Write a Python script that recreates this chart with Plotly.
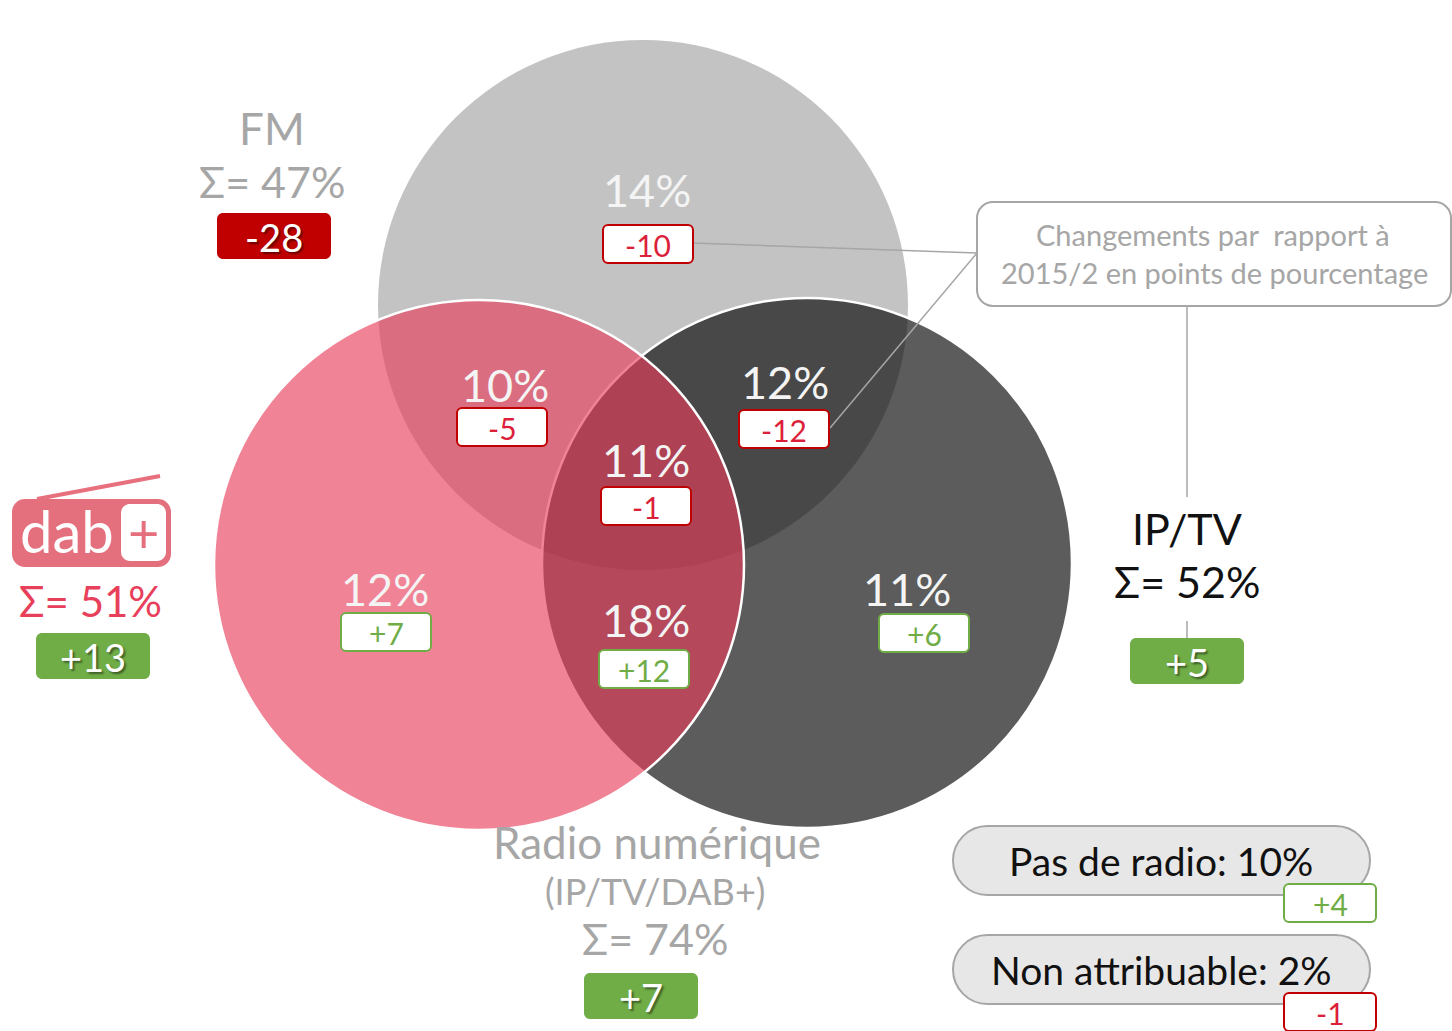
import plotly.graph_objects as go

# ---------------- data ----------------
region_names = ["FM seul", "FM + DAB+", "FM + IP/TV", "FM + DAB+ + IP/TV",
                "DAB+ seul", "DAB+ + IP/TV", "IP/TV seul"]
region_share = [14, 10, 12, 11, 12, 18, 11]
region_change = [-10, -5, -12, -1, 7, 12, 6]

platform_names = ["FM", "DAB+", "IP/TV", "Radio numérique"]
platform_total = [47, 51, 52, 74]
platform_change = [-28, 13, 5, 7]

other_names = ["Pas de radio", "Non attribuable"]
other_share = [10, 2]
other_change = [4, -1]

note_lines = ["Changements par  rapport à", "2015/2 en points de pourcentage"]

# ---------------- layout (pixel space) ----------------
W, H = 1452, 1031
FONT = "Lato"
GRAY_TXT = "#a6a6a6"
RED = "#c00000"
RED_TXT = "#dc1f3a"
GREEN = "#70ad47"
PINK_TXT = "#e8405a"

R = 265
circ_fm = (643, 305)
circ_dab = (479, 565)
circ_ip = (807, 563)

region_pos = [(647, 190), (505, 385), (785, 382), (646, 460),
              (385, 589), (646, 620), (907, 589)]
region_box = [(648, 244), (502, 427), (784, 429), (646, 506),
              (386, 632), (644, 669), (924, 633)]

K = 0.5523


def rrect(x0, y0, x1, y1, r):
    k = K * r
    return (f"M {x0+r},{y0} L {x1-r},{y0} "
            f"C {x1-r+k},{y0} {x1},{y0+r-k} {x1},{y0+r} "
            f"L {x1},{y1-r} C {x1},{y1-r+k} {x1-r+k},{y1} {x1-r},{y1} "
            f"L {x0+r},{y1} C {x0+r-k},{y1} {x0},{y1-r+k} {x0},{y1-r} "
            f"L {x0},{y0+r} C {x0},{y0+r-k} {x0+r-k},{y0} {x0+r},{y0} Z")


fig = go.Figure()
shapes = []
ann = []


def circle(c, fill, line=None):
    cx, cy = c
    shapes.append(dict(type="circle", xref="x", yref="y",
                       x0=cx - R, x1=cx + R, y0=cy - R, y1=cy + R,
                       fillcolor=fill,
                       line=dict(color=line or "rgba(0,0,0,0)", width=2.5 if line else 0)))


circle(circ_fm, "#c3c3c3")
circle(circ_ip, "rgba(10,10,10,0.667)", "white")
circle(circ_dab, "rgba(232,63,91,0.64)", "white")


def text(x, y, s, size, color, shadow=None, **kw):
    f = dict(family=FONT, size=size, color=color)
    if shadow:
        f["shadow"] = shadow
    ann.append(dict(x=x, y=y, xref="x", yref="y", text=s, showarrow=False,
                    xanchor="center", yanchor="middle", font=f, **kw))


def small_box(cx, cy, v, w=90, h=38):
    col = GREEN if v > 0 else RED
    tcol = GREEN if v > 0 else RED_TXT
    shapes.append(dict(type="path", xref="x", yref="y",
                       path=rrect(cx - w / 2, cy - h / 2, cx + w / 2, cy + h / 2, 5),
                       fillcolor="white", line=dict(color=col, width=2)))
    text(cx, cy + 1, f"{v:+d}", 30, tcol)


def big_box(cx, cy, v, w=114, h=46):
    col = GREEN if v > 0 else RED
    shapes.append(dict(type="path", xref="x", yref="y",
                       path=rrect(cx - w / 2, cy - h / 2, cx + w / 2, cy + h / 2, 6),
                       fillcolor=col, line=dict(color=col, width=0)))
    text(cx, cy + 1, f"{v:+d}", 38, "white", shadow="2px 2px 2px rgba(0,0,0,0.45)")


# connector lines from the note box
LINE_C = "#a6a6a6"
for (x0, y0, x1, y1) in [(693, 243, 977, 253), (830, 428, 977, 253),
                         (1187, 306, 1187, 497), (1187, 621, 1187, 640)]:
    shapes.append(dict(type="line", xref="x", yref="y", x0=x0, y0=y0, x1=x1, y1=y1,
                       line=dict(color=LINE_C, width=1.5)))

# region labels
for (x, y), s in zip(region_pos, region_share):
    text(x, y, f"{s}%", 45, "#f4f4f4")
for (x, y), v in zip(region_box, region_change):
    small_box(x, y, v)

# note box
shapes.append(dict(type="path", xref="x", yref="y", path=rrect(977, 202, 1451, 306, 16),
                   fillcolor="white", line=dict(color=LINE_C, width=2)))
text(1213, 234, note_lines[0], 29, GRAY_TXT)
text(1214, 272, note_lines[1], 29, GRAY_TXT)

# FM
text(272, 128, platform_names[0], 44, GRAY_TXT)
text(272, 181, f"Σ= {platform_total[0]}%", 43, GRAY_TXT)
big_box(274, 236, platform_change[0])

# DAB+ logo
shapes.append(dict(type="line", xref="x", yref="y", x0=37, y0=499, x1=160, y1=476,
                   line=dict(color="#e8707e", width=4)))
shapes.append(dict(type="path", xref="x", yref="y", path=rrect(12, 499, 171, 567, 13),
                   fillcolor="#e4707e", line=dict(color="#e4707e", width=0)))
shapes.append(dict(type="path", xref="x", yref="y", path=rrect(121, 504, 166, 561, 9),
                   fillcolor="white", line=dict(color="white", width=0)))
text(67, 530, "dab", 58, "white")
text(143, 532, "+", 54, "#e4707e")
text(90, 601, f"Σ= {platform_total[1]}%", 42, PINK_TXT)
big_box(93, 656, platform_change[1])

# IP/TV
text(1187, 528, platform_names[2], 43, "#111111")
text(1187, 581, f"Σ= {platform_total[2]}%", 43, "#111111")
big_box(1187, 661, platform_change[2])

# Radio numérique
text(657, 842, platform_names[3], 44, GRAY_TXT)
text(655, 891, "(IP/TV/DAB+)", 36, GRAY_TXT)
text(655, 938, f"Σ= {platform_total[3]}%", 43, GRAY_TXT)
big_box(641, 996, platform_change[3])

# other pills
pill_y = [(826, 895), (935, 1004)]
pill_box = [(1330, 903), (1330, 1012)]
for (y0, y1), name, s, (bx, by), v in zip(pill_y, other_names, other_share, pill_box, other_change):
    shapes.append(dict(type="path", xref="x", yref="y",
                       path=rrect(953, y0, 1370, y1, (y1 - y0) / 2),
                       fillcolor="#e7e7e7", line=dict(color="#a6a6a6", width=2)))
    text(1161, (y0 + y1) / 2, f"{name}: {s}%", 39, "#111111")
    small_box(bx, by, v, w=92, h=38)

fig.update_layout(
    width=W, height=H, margin=dict(l=0, r=0, t=0, b=0),
    paper_bgcolor="white", plot_bgcolor="white",
    xaxis=dict(range=[0, W], visible=False, fixedrange=True),
    yaxis=dict(range=[H, 0], visible=False, fixedrange=True),
    shapes=shapes, annotations=ann, showlegend=False,
)
fig.write_html("out.html", config={"displayModeBar": False},
               post_script="document.body.style.margin='0';document.body.style.overflow='hidden';")
